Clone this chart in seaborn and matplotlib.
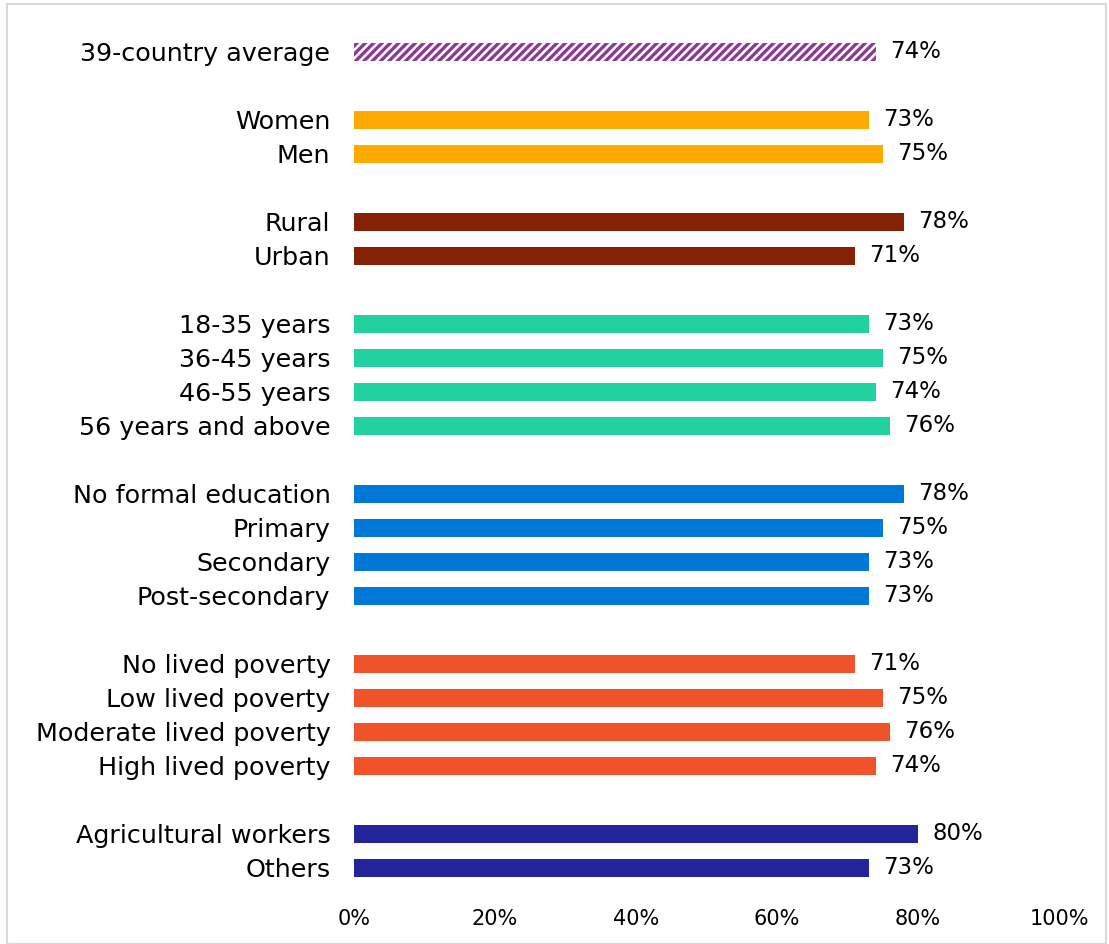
import pandas as pd
import matplotlib.pyplot as plt
import matplotlib.patches as mpatches
import seaborn as sns

# --- Datos ---
labels = ["39-country average",
          "Women", "Men",
          "Rural", "Urban",
          "18-35 years", "36-45 years", "46-55 years", "56 years and above",
          "No formal education", "Primary", "Secondary", "Post-secondary",
          "No lived poverty", "Low lived poverty", "Moderate lived poverty", "High lived poverty",
          "Agricultural workers", "Others"]
values = [74, 73, 75, 78, 71, 73, 75, 74, 76, 78, 75, 73, 73, 71, 75, 76, 74, 80, 73]
groups = ["Average", "Gender", "Gender", "Location", "Location",
          "Age", "Age", "Age", "Age",
          "Education", "Education", "Education", "Education",
          "Poverty", "Poverty", "Poverty", "Poverty",
          "Occupation", "Occupation"]
# posicion de cada fila (los huecos separan los grupos)
slots = [0, 2, 3, 5, 6, 8, 9, 10, 11, 13, 14, 15, 16, 18, 19, 20, 21, 23, 24]
xticks = [0, 20, 40, 60, 80, 100]

colores = {"Average": "#8B3A93", "Gender": "#FFAA00", "Location": "#842206",
           "Age": "#21D19F", "Education": "#0078D7", "Poverty": "#F0532A",
           "Occupation": "#23239B"}

df = pd.DataFrame({"label": labels, "value": values, "group": groups, "slot": slots})

# --- Grafico ---
sns.set_style("white")
plt.rcParams["font.family"] = ["DejaVu Sans"]
plt.rcParams["hatch.linewidth"] = 2.4
plt.rcParams["text.color"] = "black"
plt.rcParams["xtick.color"] = "black"
plt.rcParams["ytick.color"] = "black"

fig = plt.figure(figsize=(11.09, 9.44), dpi=100)
ax = fig.add_axes([354 / 1109, 1 - 902 / 944, (1059 - 354) / 1109, (902 - 21) / 944])

sns.barplot(data=df, x="value", y="slot", hue="group", palette=colores, orient="h",
            native_scale=True, dodge=False, width=0.53, legend=False, ax=ax,
            saturation=1, edgecolor="none", linewidth=0)

# barra rayada para el promedio
for p in ax.patches:
    yc = p.get_y() + p.get_height() / 2
    if abs(yc - 0) < 0.1:
        p.set_facecolor("white")
        p.set_edgecolor(colores["Average"])
        p.set_hatch("////")
        p.set_linewidth(0)

for c in ax.containers:
    ax.bar_label(c, fmt="%d%%", padding=10.5, fontsize=16.5, color="black")

ax.set_xlim(0, 100)
ax.set_ylim(25.0, -0.9)
ax.set_xticks(xticks)
ax.set_xticklabels([f"{t}%" for t in xticks], fontsize=15)
ax.set_yticks(slots)
ax.set_yticklabels(labels, fontsize=18.3)
ax.tick_params(axis="y", length=0, pad=17)
ax.tick_params(axis="x", length=0, pad=5)
ax.set_xlabel("")
ax.set_ylabel("")
sns.despine(ax=ax, left=True, bottom=True)
ax.grid(False)

# borde gris de la figura
fig.patches.append(mpatches.Rectangle((7 / 1109, 0), 1 - 10 / 1109, 1 - 4 / 944,
                                      transform=fig.transFigure, fill=False,
                                      edgecolor="#D9D9D9", linewidth=1.5))

plt.savefig("out.png", dpi=100)
